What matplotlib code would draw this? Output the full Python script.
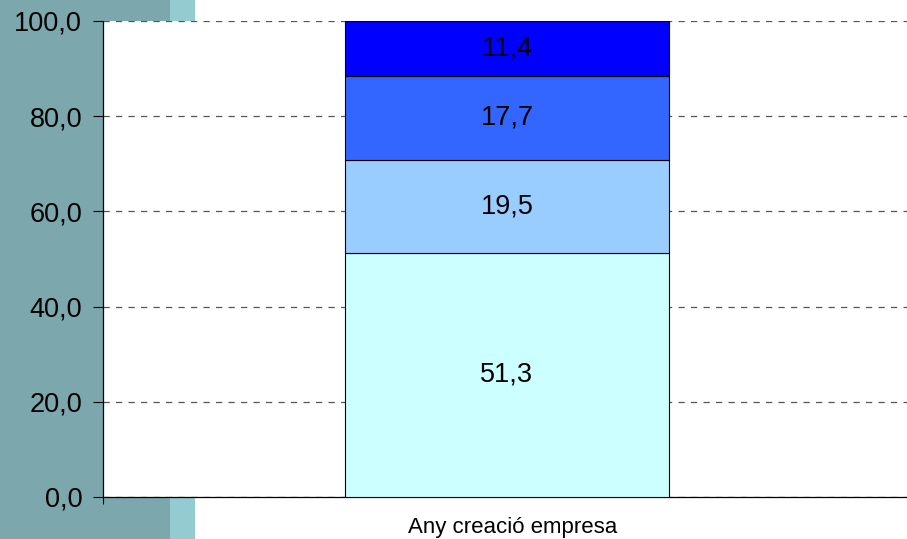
import matplotlib
matplotlib.use('Agg')
import matplotlib.pyplot as plt
from matplotlib.patches import Rectangle

category = 'Any creació empresa'
values = [51.3, 19.5, 17.7, 11.4]
colors = ['#CCFFFF', '#99CCFF', '#3366FF', '#0000FF']
yticks = [0, 20, 40, 60, 80, 100]

plt.rcParams['font.family'] = ['Liberation Sans', 'DejaVu Sans']

fig = plt.figure(figsize=(9.07, 5.39), dpi=100)
fig.patch.set_facecolor('white')
# side decoration of the slide background
fig.patches.append(Rectangle((0, 0), 170 / 907, 1, transform=fig.transFigure,
                             facecolor='#7BA7AD', edgecolor='none', zorder=-2))
fig.patches.append(Rectangle((170 / 907, 0), 25 / 907, 1, transform=fig.transFigure,
                             facecolor='#93CBD0', edgecolor='none', zorder=-2))

ax = fig.add_axes([103 / 907, 1 - 497 / 539, 1 - 103 / 907, (497 - 21) / 539])
ax.set_facecolor('white')
ax.set_zorder(1)

bottom = 0
for v, c in zip(values, colors):
    ax.bar(0, v, width=0.403, bottom=bottom, color=c, edgecolor='black',
           linewidth=0.8, zorder=3)
    ax.text(0, bottom + v / 2, f'{v:.1f}'.replace('.', ','), ha='center',
            va='center', fontsize=19.5, zorder=4)
    bottom += v

ax.set_xlim(-0.5025, 0.4975)
ax.set_ylim(0, 100)
ax.set_yticks(yticks)
ax.set_yticklabels([f'{t:.1f}'.replace('.', ',') for t in yticks], fontsize=19.5)
ax.set_xticks([-0.5025])
ax.set_xticklabels([''])
ax.tick_params(axis='y', length=7, width=0.8, pad=8)
ax.tick_params(axis='x', length=5, width=0.8)
ax.yaxis.grid(True, linestyle=(0, (5, 5)), color='#555555', linewidth=0.9, zorder=1)
ax.set_axisbelow(True)
for s in ['top', 'right']:
    ax.spines[s].set_visible(False)
ax.spines['left'].set_linewidth(0.9)
ax.spines['bottom'].set_linewidth(0.9)
fig.text(513 / 907, 1 - 527 / 539, category, ha='center', va='center', fontsize=16)

fig.savefig('out.png', dpi=100)
